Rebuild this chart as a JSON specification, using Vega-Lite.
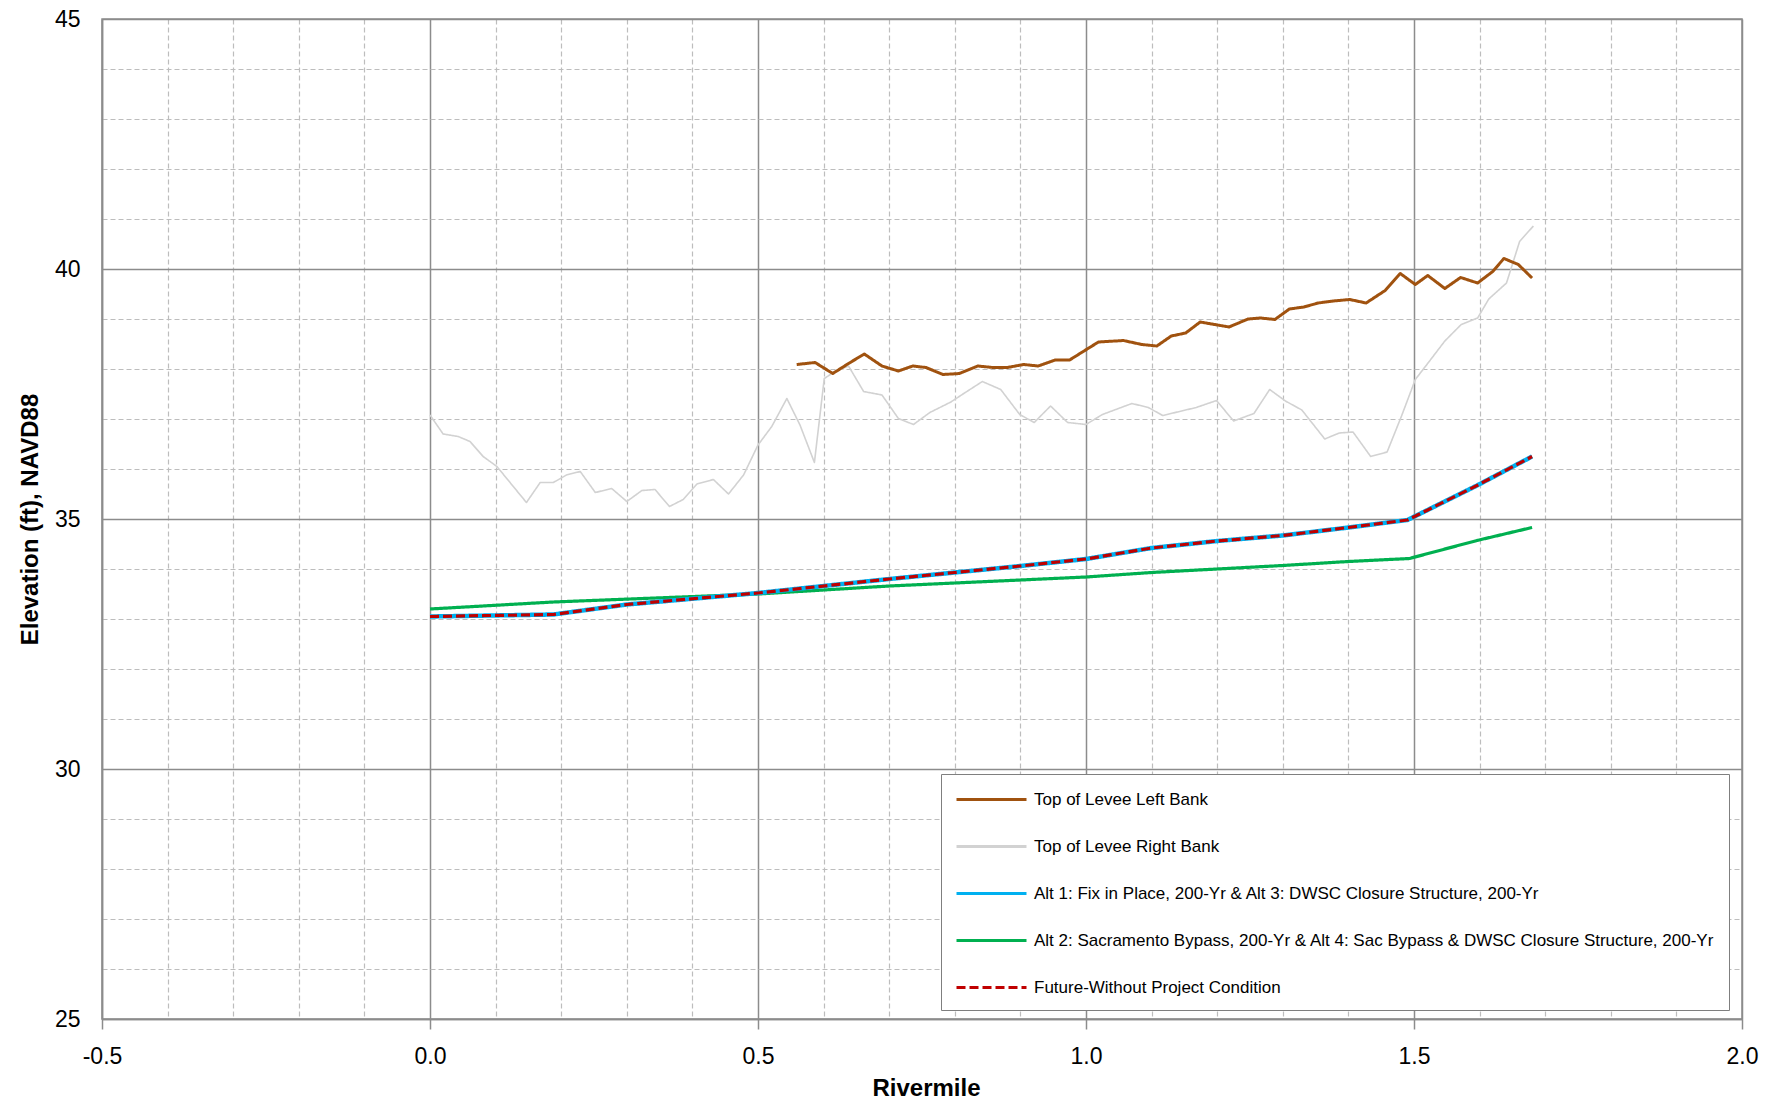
{
  "$schema": "https://vega.github.io/schema/vega-lite/v6.json",
  "width": 1640,
  "height": 1000,
  "autosize": {"type": "none"},
  "padding": {"left": 102, "top": 19, "right": 41, "bottom": 80},
  "background": "white",
  "config": {
    "font": "Liberation Sans",
    "view": {"stroke": "#8C8C8C", "strokeWidth": 1.5},
    "axis": {"labelFont": "Liberation Sans", "labelColor": "#000000", "titleFont": "Liberation Sans", "titleColor": "#000000", "titleFontWeight": "bold", "titleFontSize": 24, "labelFontSize": 23, "domainColor": "#8C8C8C", "domainWidth": 1.5, "gridOpacity": 1}
  },
  "data": {"values": [
    {"series": "Top of Levee Right Bank", "rm": 0.000, "elev": 37.08},
    {"series": "Top of Levee Right Bank", "rm": 0.020, "elev": 36.70},
    {"series": "Top of Levee Right Bank", "rm": 0.043, "elev": 36.65},
    {"series": "Top of Levee Right Bank", "rm": 0.061, "elev": 36.55},
    {"series": "Top of Levee Right Bank", "rm": 0.081, "elev": 36.25},
    {"series": "Top of Levee Right Bank", "rm": 0.102, "elev": 36.05},
    {"series": "Top of Levee Right Bank", "rm": 0.147, "elev": 35.33},
    {"series": "Top of Levee Right Bank", "rm": 0.168, "elev": 35.73},
    {"series": "Top of Levee Right Bank", "rm": 0.188, "elev": 35.73},
    {"series": "Top of Levee Right Bank", "rm": 0.208, "elev": 35.88},
    {"series": "Top of Levee Right Bank", "rm": 0.229, "elev": 35.95},
    {"series": "Top of Levee Right Bank", "rm": 0.252, "elev": 35.53},
    {"series": "Top of Levee Right Bank", "rm": 0.277, "elev": 35.61},
    {"series": "Top of Levee Right Bank", "rm": 0.300, "elev": 35.35},
    {"series": "Top of Levee Right Bank", "rm": 0.323, "elev": 35.57},
    {"series": "Top of Levee Right Bank", "rm": 0.343, "elev": 35.59},
    {"series": "Top of Levee Right Bank", "rm": 0.365, "elev": 35.25},
    {"series": "Top of Levee Right Bank", "rm": 0.386, "elev": 35.39},
    {"series": "Top of Levee Right Bank", "rm": 0.407, "elev": 35.70},
    {"series": "Top of Levee Right Bank", "rm": 0.432, "elev": 35.79},
    {"series": "Top of Levee Right Bank", "rm": 0.455, "elev": 35.50},
    {"series": "Top of Levee Right Bank", "rm": 0.478, "elev": 35.88},
    {"series": "Top of Levee Right Bank", "rm": 0.500, "elev": 36.48},
    {"series": "Top of Levee Right Bank", "rm": 0.521, "elev": 36.85},
    {"series": "Top of Levee Right Bank", "rm": 0.544, "elev": 37.41},
    {"series": "Top of Levee Right Bank", "rm": 0.564, "elev": 36.88},
    {"series": "Top of Levee Right Bank", "rm": 0.586, "elev": 36.13},
    {"series": "Top of Levee Right Bank", "rm": 0.601, "elev": 37.81},
    {"series": "Top of Levee Right Bank", "rm": 0.615, "elev": 37.93},
    {"series": "Top of Levee Right Bank", "rm": 0.638, "elev": 38.06},
    {"series": "Top of Levee Right Bank", "rm": 0.661, "elev": 37.55},
    {"series": "Top of Levee Right Bank", "rm": 0.689, "elev": 37.48},
    {"series": "Top of Levee Right Bank", "rm": 0.714, "elev": 37.01},
    {"series": "Top of Levee Right Bank", "rm": 0.737, "elev": 36.89},
    {"series": "Top of Levee Right Bank", "rm": 0.762, "elev": 37.13},
    {"series": "Top of Levee Right Bank", "rm": 0.794, "elev": 37.34},
    {"series": "Top of Levee Right Bank", "rm": 0.816, "elev": 37.53},
    {"series": "Top of Levee Right Bank", "rm": 0.842, "elev": 37.75},
    {"series": "Top of Levee Right Bank", "rm": 0.870, "elev": 37.59},
    {"series": "Top of Levee Right Bank", "rm": 0.899, "elev": 37.09},
    {"series": "Top of Levee Right Bank", "rm": 0.921, "elev": 36.93},
    {"series": "Top of Levee Right Bank", "rm": 0.946, "elev": 37.26},
    {"series": "Top of Levee Right Bank", "rm": 0.972, "elev": 36.93},
    {"series": "Top of Levee Right Bank", "rm": 1.000, "elev": 36.89},
    {"series": "Top of Levee Right Bank", "rm": 1.025, "elev": 37.09},
    {"series": "Top of Levee Right Bank", "rm": 1.070, "elev": 37.31},
    {"series": "Top of Levee Right Bank", "rm": 1.095, "elev": 37.23},
    {"series": "Top of Levee Right Bank", "rm": 1.117, "elev": 37.07},
    {"series": "Top of Levee Right Bank", "rm": 1.168, "elev": 37.23},
    {"series": "Top of Levee Right Bank", "rm": 1.199, "elev": 37.37},
    {"series": "Top of Levee Right Bank", "rm": 1.225, "elev": 36.96},
    {"series": "Top of Levee Right Bank", "rm": 1.256, "elev": 37.11},
    {"series": "Top of Levee Right Bank", "rm": 1.280, "elev": 37.59},
    {"series": "Top of Levee Right Bank", "rm": 1.304, "elev": 37.36},
    {"series": "Top of Levee Right Bank", "rm": 1.329, "elev": 37.18},
    {"series": "Top of Levee Right Bank", "rm": 1.364, "elev": 36.60},
    {"series": "Top of Levee Right Bank", "rm": 1.386, "elev": 36.72},
    {"series": "Top of Levee Right Bank", "rm": 1.407, "elev": 36.74},
    {"series": "Top of Levee Right Bank", "rm": 1.434, "elev": 36.25},
    {"series": "Top of Levee Right Bank", "rm": 1.459, "elev": 36.34},
    {"series": "Top of Levee Right Bank", "rm": 1.481, "elev": 37.06},
    {"series": "Top of Levee Right Bank", "rm": 1.502, "elev": 37.79},
    {"series": "Top of Levee Right Bank", "rm": 1.522, "elev": 38.13},
    {"series": "Top of Levee Right Bank", "rm": 1.547, "elev": 38.56},
    {"series": "Top of Levee Right Bank", "rm": 1.572, "elev": 38.89},
    {"series": "Top of Levee Right Bank", "rm": 1.597, "elev": 39.02},
    {"series": "Top of Levee Right Bank", "rm": 1.614, "elev": 39.40},
    {"series": "Top of Levee Right Bank", "rm": 1.641, "elev": 39.72},
    {"series": "Top of Levee Right Bank", "rm": 1.661, "elev": 40.55},
    {"series": "Top of Levee Right Bank", "rm": 1.682, "elev": 40.86},
    {"series": "Top of Levee Left Bank", "rm": 0.559, "elev": 38.09},
    {"series": "Top of Levee Left Bank", "rm": 0.587, "elev": 38.13},
    {"series": "Top of Levee Left Bank", "rm": 0.614, "elev": 37.91},
    {"series": "Top of Levee Left Bank", "rm": 0.638, "elev": 38.11},
    {"series": "Top of Levee Left Bank", "rm": 0.662, "elev": 38.30},
    {"series": "Top of Levee Left Bank", "rm": 0.689, "elev": 38.06},
    {"series": "Top of Levee Left Bank", "rm": 0.714, "elev": 37.96},
    {"series": "Top of Levee Left Bank", "rm": 0.736, "elev": 38.06},
    {"series": "Top of Levee Left Bank", "rm": 0.756, "elev": 38.03},
    {"series": "Top of Levee Left Bank", "rm": 0.782, "elev": 37.89},
    {"series": "Top of Levee Left Bank", "rm": 0.807, "elev": 37.91},
    {"series": "Top of Levee Left Bank", "rm": 0.835, "elev": 38.06},
    {"series": "Top of Levee Left Bank", "rm": 0.858, "elev": 38.03},
    {"series": "Top of Levee Left Bank", "rm": 0.880, "elev": 38.03},
    {"series": "Top of Levee Left Bank", "rm": 0.905, "elev": 38.09},
    {"series": "Top of Levee Left Bank", "rm": 0.927, "elev": 38.06},
    {"series": "Top of Levee Left Bank", "rm": 0.953, "elev": 38.18},
    {"series": "Top of Levee Left Bank", "rm": 0.975, "elev": 38.18},
    {"series": "Top of Levee Left Bank", "rm": 0.997, "elev": 38.36},
    {"series": "Top of Levee Left Bank", "rm": 1.019, "elev": 38.54},
    {"series": "Top of Levee Left Bank", "rm": 1.057, "elev": 38.57},
    {"series": "Top of Levee Left Bank", "rm": 1.085, "elev": 38.49},
    {"series": "Top of Levee Left Bank", "rm": 1.108, "elev": 38.46},
    {"series": "Top of Levee Left Bank", "rm": 1.130, "elev": 38.66},
    {"series": "Top of Levee Left Bank", "rm": 1.152, "elev": 38.72},
    {"series": "Top of Levee Left Bank", "rm": 1.174, "elev": 38.94},
    {"series": "Top of Levee Left Bank", "rm": 1.218, "elev": 38.84},
    {"series": "Top of Levee Left Bank", "rm": 1.247, "elev": 39.00},
    {"series": "Top of Levee Left Bank", "rm": 1.266, "elev": 39.02},
    {"series": "Top of Levee Left Bank", "rm": 1.288, "elev": 38.99},
    {"series": "Top of Levee Left Bank", "rm": 1.310, "elev": 39.20},
    {"series": "Top of Levee Left Bank", "rm": 1.332, "elev": 39.24},
    {"series": "Top of Levee Left Bank", "rm": 1.354, "elev": 39.32},
    {"series": "Top of Levee Left Bank", "rm": 1.377, "elev": 39.36},
    {"series": "Top of Levee Left Bank", "rm": 1.402, "elev": 39.39},
    {"series": "Top of Levee Left Bank", "rm": 1.427, "elev": 39.32},
    {"series": "Top of Levee Left Bank", "rm": 1.456, "elev": 39.57},
    {"series": "Top of Levee Left Bank", "rm": 1.479, "elev": 39.91},
    {"series": "Top of Levee Left Bank", "rm": 1.502, "elev": 39.69},
    {"series": "Top of Levee Left Bank", "rm": 1.521, "elev": 39.87},
    {"series": "Top of Levee Left Bank", "rm": 1.547, "elev": 39.61},
    {"series": "Top of Levee Left Bank", "rm": 1.571, "elev": 39.83},
    {"series": "Top of Levee Left Bank", "rm": 1.597, "elev": 39.72},
    {"series": "Top of Levee Left Bank", "rm": 1.620, "elev": 39.95},
    {"series": "Top of Levee Left Bank", "rm": 1.637, "elev": 40.21},
    {"series": "Top of Levee Left Bank", "rm": 1.659, "elev": 40.09},
    {"series": "Top of Levee Left Bank", "rm": 1.680, "elev": 39.82},
    {"series": "Alt 1: Fix in Place, 200-Yr & Alt 3: DWSC Closure Structure, 200-Yr", "rm": 0.000, "elev": 33.05},
    {"series": "Alt 1: Fix in Place, 200-Yr & Alt 3: DWSC Closure Structure, 200-Yr", "rm": 0.188, "elev": 33.09},
    {"series": "Alt 1: Fix in Place, 200-Yr & Alt 3: DWSC Closure Structure, 200-Yr", "rm": 0.300, "elev": 33.29},
    {"series": "Alt 1: Fix in Place, 200-Yr & Alt 3: DWSC Closure Structure, 200-Yr", "rm": 0.500, "elev": 33.52},
    {"series": "Alt 1: Fix in Place, 200-Yr & Alt 3: DWSC Closure Structure, 200-Yr", "rm": 0.700, "elev": 33.80},
    {"series": "Alt 1: Fix in Place, 200-Yr & Alt 3: DWSC Closure Structure, 200-Yr", "rm": 0.800, "elev": 33.93},
    {"series": "Alt 1: Fix in Place, 200-Yr & Alt 3: DWSC Closure Structure, 200-Yr", "rm": 0.900, "elev": 34.06},
    {"series": "Alt 1: Fix in Place, 200-Yr & Alt 3: DWSC Closure Structure, 200-Yr", "rm": 1.000, "elev": 34.20},
    {"series": "Alt 1: Fix in Place, 200-Yr & Alt 3: DWSC Closure Structure, 200-Yr", "rm": 1.100, "elev": 34.42},
    {"series": "Alt 1: Fix in Place, 200-Yr & Alt 3: DWSC Closure Structure, 200-Yr", "rm": 1.200, "elev": 34.56},
    {"series": "Alt 1: Fix in Place, 200-Yr & Alt 3: DWSC Closure Structure, 200-Yr", "rm": 1.300, "elev": 34.67},
    {"series": "Alt 1: Fix in Place, 200-Yr & Alt 3: DWSC Closure Structure, 200-Yr", "rm": 1.400, "elev": 34.83},
    {"series": "Alt 1: Fix in Place, 200-Yr & Alt 3: DWSC Closure Structure, 200-Yr", "rm": 1.490, "elev": 34.98},
    {"series": "Alt 1: Fix in Place, 200-Yr & Alt 3: DWSC Closure Structure, 200-Yr", "rm": 1.596, "elev": 35.67},
    {"series": "Alt 1: Fix in Place, 200-Yr & Alt 3: DWSC Closure Structure, 200-Yr", "rm": 1.680, "elev": 36.25},
    {"series": "Alt 2: Sacramento Bypass, 200-Yr & Alt 4: Sac Bypass & DWSC Closure Structure, 200-Yr", "rm": 0.000, "elev": 33.20},
    {"series": "Alt 2: Sacramento Bypass, 200-Yr & Alt 4: Sac Bypass & DWSC Closure Structure, 200-Yr", "rm": 0.188, "elev": 33.34},
    {"series": "Alt 2: Sacramento Bypass, 200-Yr & Alt 4: Sac Bypass & DWSC Closure Structure, 200-Yr", "rm": 0.500, "elev": 33.50},
    {"series": "Alt 2: Sacramento Bypass, 200-Yr & Alt 4: Sac Bypass & DWSC Closure Structure, 200-Yr", "rm": 0.700, "elev": 33.66},
    {"series": "Alt 2: Sacramento Bypass, 200-Yr & Alt 4: Sac Bypass & DWSC Closure Structure, 200-Yr", "rm": 1.000, "elev": 33.84},
    {"series": "Alt 2: Sacramento Bypass, 200-Yr & Alt 4: Sac Bypass & DWSC Closure Structure, 200-Yr", "rm": 1.100, "elev": 33.93},
    {"series": "Alt 2: Sacramento Bypass, 200-Yr & Alt 4: Sac Bypass & DWSC Closure Structure, 200-Yr", "rm": 1.200, "elev": 34.00},
    {"series": "Alt 2: Sacramento Bypass, 200-Yr & Alt 4: Sac Bypass & DWSC Closure Structure, 200-Yr", "rm": 1.300, "elev": 34.07},
    {"series": "Alt 2: Sacramento Bypass, 200-Yr & Alt 4: Sac Bypass & DWSC Closure Structure, 200-Yr", "rm": 1.400, "elev": 34.15},
    {"series": "Alt 2: Sacramento Bypass, 200-Yr & Alt 4: Sac Bypass & DWSC Closure Structure, 200-Yr", "rm": 1.493, "elev": 34.21},
    {"series": "Alt 2: Sacramento Bypass, 200-Yr & Alt 4: Sac Bypass & DWSC Closure Structure, 200-Yr", "rm": 1.596, "elev": 34.57},
    {"series": "Alt 2: Sacramento Bypass, 200-Yr & Alt 4: Sac Bypass & DWSC Closure Structure, 200-Yr", "rm": 1.680, "elev": 34.83},
    {"series": "Future-Without Project Condition", "rm": 0.000, "elev": 33.05},
    {"series": "Future-Without Project Condition", "rm": 0.188, "elev": 33.09},
    {"series": "Future-Without Project Condition", "rm": 0.300, "elev": 33.29},
    {"series": "Future-Without Project Condition", "rm": 0.500, "elev": 33.52},
    {"series": "Future-Without Project Condition", "rm": 0.700, "elev": 33.80},
    {"series": "Future-Without Project Condition", "rm": 0.800, "elev": 33.93},
    {"series": "Future-Without Project Condition", "rm": 0.900, "elev": 34.06},
    {"series": "Future-Without Project Condition", "rm": 1.000, "elev": 34.20},
    {"series": "Future-Without Project Condition", "rm": 1.100, "elev": 34.42},
    {"series": "Future-Without Project Condition", "rm": 1.200, "elev": 34.56},
    {"series": "Future-Without Project Condition", "rm": 1.300, "elev": 34.67},
    {"series": "Future-Without Project Condition", "rm": 1.400, "elev": 34.83},
    {"series": "Future-Without Project Condition", "rm": 1.490, "elev": 34.98},
    {"series": "Future-Without Project Condition", "rm": 1.596, "elev": 35.67},
    {"series": "Future-Without Project Condition", "rm": 1.680, "elev": 36.25}
  ]},
  "encoding": {
    "x": {
      "field": "rm", "type": "quantitative",
      "scale": {"domain": [-0.5, 2.0], "nice": false, "zero": false},
      "axis": {
        "title": "Rivermile",
        "titleX": 824, "titleY": 76, "titleBaseline": "alphabetic", "titleAlign": "center", "titleAnchor": null,
        "values": [-0.5, -0.4, -0.3, -0.2, -0.1, 0, 0.1, 0.2, 0.3, 0.4, 0.5, 0.6, 0.7, 0.8, 0.9, 1, 1.1, 1.2, 1.3, 1.4, 1.5, 1.6, 1.7, 1.8, 1.9, 2],
        "labelExpr": "abs(datum.value*2 - round(datum.value*2)) < 0.001 ? (datum.value < 0 ? '-' + format(-datum.value, '.1f') : format(datum.value, '.1f')) : ''",
        "labelBaseline": "alphabetic", "labelPadding": 34, "labelFlush": false, "labelOverlap": false,
        "tickSize": 10, "tickColor": "#8C8C8C", "tickWidth": 1.5,
        "tickOpacity": {"condition": {"test": "abs(datum.value*2 - round(datum.value*2)) > 0.001", "value": 0}, "value": 1},
        "grid": true,
        "gridColor": {"condition": {"test": "abs(datum.value*2 - round(datum.value*2)) > 0.001", "value": "#BDBDBD"}, "value": "#8C8C8C"},
        "gridDash": {"condition": {"test": "abs(datum.value*2 - round(datum.value*2)) > 0.001", "value": [5, 3]}, "value": []},
        "gridWidth": {"condition": {"test": "abs(datum.value*2 - round(datum.value*2)) > 0.001", "value": 1.2}, "value": 1.5}
      }
    },
    "y": {
      "field": "elev", "type": "quantitative",
      "scale": {"domain": [25, 45], "nice": false, "zero": false},
      "axis": {
        "title": "Elevation (ft), NAVD88",
        "titleX": -72, "titleY": 500, "titleBaseline": "middle", "titleAlign": "center", "titleAngle": -90, "titleAnchor": null,
        "values": [25, 26, 27, 28, 29, 30, 31, 32, 33, 34, 35, 36, 37, 38, 39, 40, 41, 42, 43, 44, 45],
        "labelExpr": "datum.value % 5 == 0 ? format(datum.value, 'd') : ''",
        "ticks": false, "labelPadding": 22, "labelFlush": false, "labelOverlap": false,
        "grid": true,
        "gridColor": {"condition": {"test": "datum.value % 5 != 0", "value": "#BDBDBD"}, "value": "#8C8C8C"},
        "gridDash": {"condition": {"test": "datum.value % 5 != 0", "value": [5, 3]}, "value": []},
        "gridWidth": {"condition": {"test": "datum.value % 5 != 0", "value": 1.2}, "value": 1.5}
      }
    },
    "color": {
      "field": "series", "type": "nominal",
      "scale": {
        "domain": ["Top of Levee Left Bank", "Top of Levee Right Bank", "Alt 1: Fix in Place, 200-Yr & Alt 3: DWSC Closure Structure, 200-Yr", "Alt 2: Sacramento Bypass, 200-Yr & Alt 4: Sac Bypass & DWSC Closure Structure, 200-Yr", "Future-Without Project Condition"],
        "range": ["#A0520F", "#D2D2D2", "#00B0F0", "#00B050", "#C00000"]
      },
      "legend": {
        "title": null, "orient": "none", "legendX": 839, "legendY": 755,
        "symbolType": "M-1,0H6", "symbolSize": 400, "symbolStrokeWidth": 3,
        "labelOffset": 56, "labelFont": "Liberation Sans", "labelFontSize": 17, "labelColor": "#000000", "labelLimit": 0,
        "padding": 14, "rowPadding": 27, "strokeColor": "#7F7F7F", "fillColor": "white",
        "encode": {"symbols": {"update": {"strokeWidth": {"value": 3}}}}
      }
    },
    "strokeDash": {
      "field": "series", "type": "nominal",
      "scale": {
        "domain": ["Top of Levee Left Bank", "Top of Levee Right Bank", "Alt 1: Fix in Place, 200-Yr & Alt 3: DWSC Closure Structure, 200-Yr", "Alt 2: Sacramento Bypass, 200-Yr & Alt 4: Sac Bypass & DWSC Closure Structure, 200-Yr", "Future-Without Project Condition"],
        "range": [[1, 0], [1, 0], [1, 0], [1, 0], [9, 4]]
      },
      "legend": {
        "title": null, "orient": "none", "legendX": 839, "legendY": 755,
        "symbolType": "M-1,0H6", "symbolSize": 400, "symbolStrokeWidth": 3,
        "labelOffset": 56, "labelFont": "Liberation Sans", "labelFontSize": 17, "labelColor": "#000000", "labelLimit": 0,
        "padding": 14, "rowPadding": 27, "strokeColor": "#7F7F7F", "fillColor": "white",
        "encode": {"symbols": {"update": {"strokeWidth": {"value": 3}}}}
      }
    }
  },
  "layer": [
    {"mark": {"type": "line", "strokeJoin": "round", "strokeWidth": 1.6}, "transform": [{"filter": "datum.series == 'Top of Levee Right Bank'"}]},
    {"mark": {"type": "line", "strokeJoin": "round", "strokeWidth": 3}, "transform": [{"filter": "datum.series == 'Top of Levee Left Bank'"}]},
    {"mark": {"type": "line", "strokeJoin": "round", "strokeWidth": 3.2}, "transform": [{"filter": "indexof(datum.series, 'Alt 2') == 0"}]},
    {"mark": {"type": "line", "strokeJoin": "round", "strokeWidth": 4.5}, "transform": [{"filter": "indexof(datum.series, 'Alt 1') == 0"}]},
    {"mark": {"type": "line", "strokeJoin": "round", "strokeWidth": 3.2}, "transform": [{"filter": "datum.series == 'Future-Without Project Condition'"}]}
  ]
}
